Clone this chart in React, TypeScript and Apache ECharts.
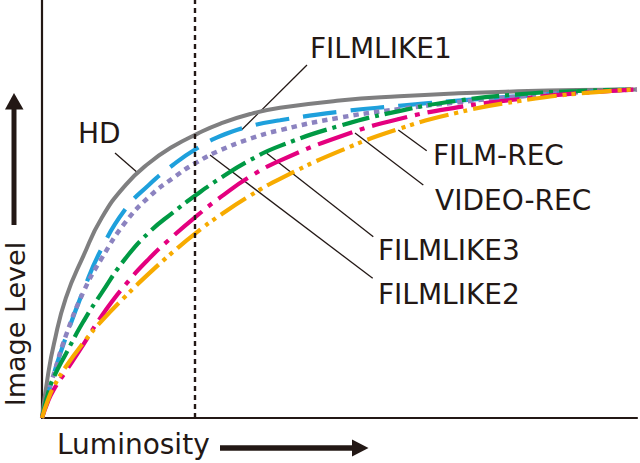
import React, { useEffect, useRef } from "react";
import * as echarts from "echarts";

// Luminosity (0–100) shared by all curves; image level 0–100 at saturation
const luminosity = [0, 1, 2, 4, 7, 10, 14, 18, 22, 26, 30, 35, 40, 50, 60, 70, 80, 90, 100];

const hdLevel = [0, 13, 22.5, 36.5, 49.5, 60.8, 70.8, 77.6, 82.6, 86.4, 89.6, 92.5, 94.4, 96.6, 97.9, 98.8, 99.4, 99.8, 100];
const filmlike1Level = [0, 7, 13.5, 24.5, 39, 51.5, 63.5, 71, 77, 82, 85.8, 88.8, 90.6, 93.2, 95.0, 96.6, 97.9, 99.1, 100];
const filmlike2Level = [0, 7.5, 13.5, 25, 38.5, 48.5, 59.5, 67.3, 73, 77.8, 81.5, 85, 87.6, 91.4, 94, 96.1, 97.8, 99.1, 100];
const filmlike3Level = [0, 7.5, 12.5, 19.5, 29.5, 38, 48.5, 56.5, 62.5, 68, 73, 78.5, 82.8, 88.9, 93.4, 96.6, 98.5, 99.5, 100];
const videoRecLevel = [0, 5, 8.7, 14.2, 22.5, 31, 40.5, 48.5, 55.3, 61.5, 67.2, 73.5, 78.3, 85.6, 91, 94.6, 97, 98.8, 100];
const filmRecLevel = [0, 5.5, 9.6, 15.6, 23, 29.5, 37, 44, 50.5, 56.5, 61.8, 67.7, 72.8, 81.2, 88, 93, 96.4, 98.7, 100];

const referenceLuminosity = 25.7;

const seriesNames = ["HD", "FILMLIKE1", "FILMLIKE2", "FILMLIKE3", "VIDEO-REC", "FILM-REC"];
const xAxisLabel = "Luminosity";
const yAxisLabel = "Image Level";

const INK = "#231815";
const FONT = "'DejaVu Sans', 'Open Sans', sans-serif";

function pairs(xs: number[], ys: number[]) {
  return xs.map((x, i) => [x, ys[i]]);
}

export default function App() {
  const ref = useRef<HTMLDivElement>(null);

  useEffect(() => {
    if (!ref.current) return;
    const chart = echarts.init(ref.current, undefined, { renderer: "svg" });

    const mk = (name: string, levels: number[], color: string, width: number, type: any) => ({
      name,
      type: "line",
      data: pairs(luminosity, levels),
      symbol: "none",
      smooth: 0.5,
      lineStyle: { color, width, type, cap: "butt" },
      silent: true,
    });

    const label = (text: string, x: number, y: number) => ({
      type: "text",
      x,
      y,
      style: { text, fill: INK, font: `28px ${FONT}`, textAlign: "left", textVerticalAlign: "middle" },
    });
    const leader = (x1: number, y1: number, x2: number, y2: number) => ({
      type: "line",
      shape: { x1, y1, x2, y2 },
      style: { stroke: INK, lineWidth: 1.3 },
    });

    const option: any = {
      animation: false,
      backgroundColor: "#ffffff",
      grid: { left: 42, right: 3, top: 0, bottom: 45 },
      xAxis: {
        type: "value",
        min: 0,
        max: 100,
        axisLine: { show: true, lineStyle: { color: INK, width: 2.2 } },
        axisTick: { show: false },
        axisLabel: { show: false },
        splitLine: { show: false },
      },
      yAxis: {
        type: "value",
        min: 0,
        max: 127.2,
        axisLine: { show: true, lineStyle: { color: INK, width: 2.2 } },
        axisTick: { show: false },
        axisLabel: { show: false },
        splitLine: { show: false },
      },
      series: [
        {
          ...mk(seriesNames[0], hdLevel, "#7f7f80", 4, "solid"),
          markLine: {
            silent: true,
            symbol: "none",
            label: { show: false },
            lineStyle: { color: INK, width: 2.4, type: [5, 4] },
            data: [{ xAxis: referenceLuminosity }],
          },
        },
        mk(seriesNames[1], filmlike1Level, "#1ea0dc", 4.2, [34, 14]),
        mk(seriesNames[2], filmlike2Level, "#8c83c0", 4.5, [5.5, 5]),
        mk(seriesNames[3], filmlike3Level, "#009a44", 4.2, [28, 6, 4, 6]),
        mk(seriesNames[4], videoRecLevel, "#e4007f", 4.2, [36, 8, 5, 8]),
        mk(seriesNames[5], filmRecLevel, "#f7ab00", 4.2, [30, 6, 4, 5, 4, 6]),
      ],
      graphic: [
        label(seriesNames[0], 78, 133),
        label(seriesNames[1], 310, 48),
        label(seriesNames[5], 433, 155),
        label(seriesNames[4], 435, 200),
        label(seriesNames[3], 378, 250),
        label(seriesNames[2], 378, 294),
        leader(115, 153, 138.5, 173.5),
        leader(307, 65, 242, 129.5),
        leader(210, 155, 372.7, 278.3),
        leader(266.7, 153.3, 373.3, 236.7),
        leader(355, 133, 423.3, 185),
        leader(398.3, 130, 426.7, 150.7),
        {
          type: "text",
          x: 57,
          y: 444,
          style: { text: xAxisLabel, fill: INK, font: `28px ${FONT}`, textAlign: "left", textVerticalAlign: "middle" },
        },
        {
          type: "text",
          x: 15,
          y: 324,
          rotation: Math.PI / 2,
          style: { text: yAxisLabel, fill: INK, font: `27px ${FONT}`, textAlign: "center", textVerticalAlign: "middle" },
        },
        { type: "rect", shape: { x: 11.5, y: 107, width: 5, height: 118 }, style: { fill: INK } },
        { type: "polygon", shape: { points: [[14, 93], [5, 109.5], [23.5, 109.5]] }, style: { fill: INK } },
        { type: "rect", shape: { x: 220, y: 445.2, width: 134, height: 5.5 }, style: { fill: INK } },
        { type: "polygon", shape: { points: [[368.5, 448], [352, 439.5], [352, 456.5]] }, style: { fill: INK } },
      ],
    };

    chart.setOption(option);
    return () => chart.dispose();
  }, []);

  return (
    <div
      ref={ref}
      style={{ position: "fixed", left: 0, top: 0, width: 640, height: 463, background: "#fff" }}
    />
  );
}
